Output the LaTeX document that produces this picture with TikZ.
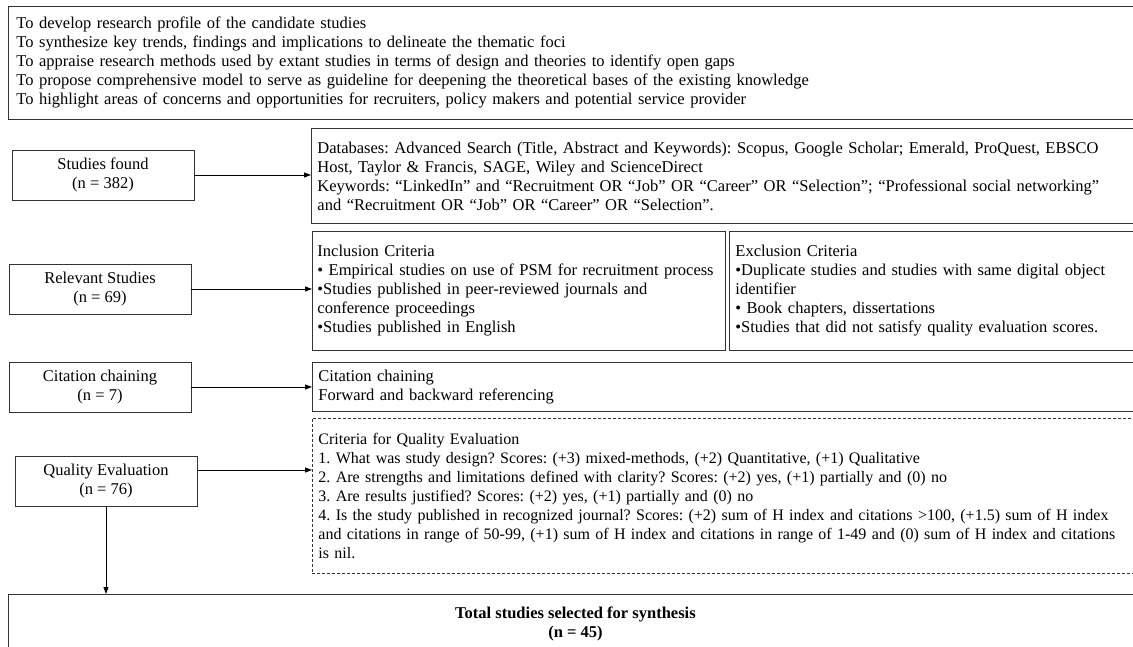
\documentclass[tikz,border=0pt]{standalone}
\usepackage{fontspec}
\setmainfont{Liberation Serif}
\usetikzlibrary{arrows.meta}

\begin{document}
\frenchspacing
\begin{tikzpicture}[x=1pt,y=-1pt,
  font=\fontsize{16.5}{19}\selectfont,
  every node/.style={line width=0.9pt, draw=black!80},
  lbox/.style={draw, minimum width=182pt, minimum height=50pt, align=center, inner sep=0pt},
  rbox/.style={draw, anchor=north west, align=left, inner xsep=6pt, inner ysep=0pt,
    execute at begin node={\hyphenpenalty=10000}},
  arr/.style={-{Triangle[length=7pt,width=5pt]}, line width=0.9pt}]
\path[use as bounding box, clip] (0,0) rectangle (1133,646);
%aims of the review
\node[rbox, inner xsep=8pt, text width=1122pt, minimum height=113pt] (aims) at (8,6) {To develop research profile of the candidate studies\\
To synthesize key trends, findings and implications to delineate the thematic foci\\
To appraise research methods used by extant studies in terms of design and theories to identify open gaps\\
To propose comprehensive model to serve as guideline for deepening the theoretical bases of the existing knowledge\\
To highlight areas of concerns and opportunities for recruiters, policy makers and potential service provider};
%left column
\node[lbox] (found) at (103,175) {Studies found\\(n = 382)};
\node[lbox] (relevant) at (100,289) {Relevant Studies\\(n = 69)};
\node[lbox] (chaining) at (100,387) {Citation chaining\\(n = 7)};
\node[lbox] (quality) at (106,481) {Quality Evaluation\\(n = 76)};
%right column, running past the right edge
\node[rbox, text width=900pt, minimum height=95pt] (search) at (311,128) {Databases: Advanced Search (Title, Abstract and Keywords): Scopus, Google Scholar; Emerald, ProQuest, EBSCO\\
Host, Taylor \& Francis, SAGE, Wiley and ScienceDirect\\
Keywords: “LinkedIn” and “Recruitment OR “Job” OR “Career” OR “Selection”; “Professional social networking”\\
and “Recruitment OR “Job” OR “Career” OR “Selection”.};
\node[rbox, inner xsep=5pt, text width=403pt, minimum height=119pt] (incl) at (312,231) {Inclusion Criteria\\
\mbox{• Empirical studies on use of PSM for recruitment process}\\
•Studies published in peer-reviewed journals and\\
conference proceedings\\
•Studies published in English};
\node[rbox, text width=440pt, minimum height=119pt] (excl) at (729,231) {Exclusion Criteria\\
•Duplicate studies and studies with same digital object\\
identifier\\
• Book chapters, dissertations\\
•Studies that did not satisfy quality evaluation scores.};
\node[rbox, text width=900pt, minimum height=49pt] (cite) at (312,362) {Citation chaining\\
Forward and backward referencing};
\node[rbox, dash pattern=on 3pt off 2pt, text width=900pt, minimum height=155pt, font=\fontsize{16}{19}\selectfont] (crit) at (312,418) {Criteria for Quality Evaluation\\
1. What was study design? Scores: (+3) mixed-methods, (+2) Quantitative, (+1) Qualitative\\
2. Are strengths and limitations defined with clarity? Scores: (+2) yes, (+1) partially and (0) no\\
3. Are results justified? Scores: (+2) yes, (+1) partially and (0) no\\
4. Is the study published in recognized journal? Scores: (+2) sum of H index and citations >100, (+1.5) sum of H index\\
and citations in range of 50-99, (+1) sum of H index and citations in range of 1-49 and (0) sum of H index and citations\\
is nil.};
%final box
\node[draw, anchor=north west, minimum width=1134pt, minimum height=58pt, align=center, inner sep=0pt, font=\fontsize{16.5}{19}\selectfont\bfseries] (total) at (8,594) {Total studies selected for synthesis\\(n = 45)};
%arrows
\draw[arr] (found.east) -- (found.east -| search.west);
\draw[arr] (relevant.east) -- (relevant.east -| incl.west);
\draw[arr] (chaining.east) -- (chaining.east -| cite.west);
\draw[arr] ([yshift=11pt]quality.east) -- ([yshift=11pt]quality.east -| crit.west);
\draw[arr] (quality.south) -- (quality.south |- total.north);
\end{tikzpicture}
\end{document}
